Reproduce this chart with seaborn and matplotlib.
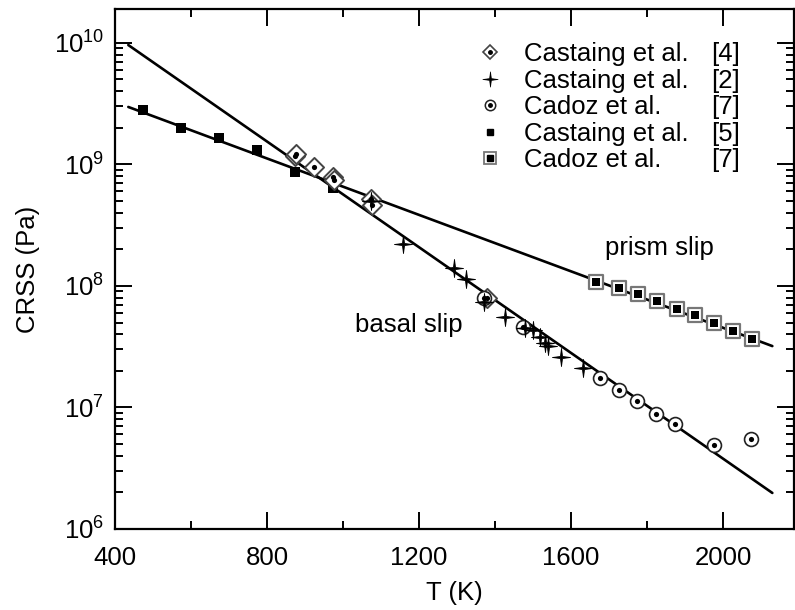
import numpy as np
import pandas as pd
import matplotlib
matplotlib.use("Agg")
import matplotlib.pyplot as plt
from matplotlib.lines import Line2D
from matplotlib.path import Path
from matplotlib.ticker import MultipleLocator, LogLocator, NullFormatter
import seaborn as sns

# data: T in K, CRSS in Pa
castaing4_T = [873, 876, 924, 973, 976, 1074, 1076, 1378]
castaing4_crss = [1.18e9, 1.22e9, 9.6e8, 7.9e8, 7.5e8, 5.2e8, 4.6e8, 8.0e7]

castaing2_T = [1075, 1159, 1292, 1323, 1372, 1426, 1479, 1501, 1518, 1532, 1540, 1575, 1633]
castaing2_crss = [5.0e8, 2.2e8, 1.4e8, 1.13e8, 7.4e7, 5.6e7, 4.5e7, 4.3e7, 3.8e7,
                  3.4e7, 3.2e7, 2.6e7, 2.1e7]

cadoz_circ_T = [1372, 1475, 1676, 1727, 1775, 1825, 1875, 1976, 2075]
cadoz_circ_crss = [8.0e7, 4.6e7, 1.74e7, 1.38e7, 1.12e7, 8.9e6, 7.3e6, 4.9e6, 5.5e6]

castaing5_T = [473, 573, 674, 775, 875, 974]
castaing5_crss = [2.8e9, 2.0e9, 1.64e9, 1.32e9, 8.6e8, 6.4e8]

cadoz_sq_T = [1666, 1727, 1777, 1827, 1878, 1926, 1976, 2027, 2077]
cadoz_sq_crss = [1.07e8, 9.7e7, 8.6e7, 7.5e7, 6.4e7, 5.8e7, 5.0e7, 4.27e7, 3.64e7]

# fitted lines (end points)
basal_T = [435, 2130]
basal_crss = [9.6e9, 1.98e6]
prism_T = [435, 2130]
prism_crss = [2.97e9, 3.2e7]

labels = ["Castaing et al.", "Castaing et al.", "Cadoz et al.", "Castaing et al.", "Cadoz et al."]
refs = ["[4]", "[2]", "[7]", "[5]", "[7]"]

sns.set_theme(style="ticks")
plt.rcParams["font.family"] = ["Liberation Sans", "DejaVu Sans"]
plt.rcParams["font.size"] = 18.5
plt.rcParams["text.color"] = "black"
plt.rcParams["axes.labelcolor"] = "black"

# thin four-armed star like the original "+" symbols
ang = np.deg2rad(np.arange(0, 360, 45))
rad = np.where(np.arange(8) % 2 == 0, 1.0, 0.16)
verts = np.column_stack([rad * np.sin(ang), rad * np.cos(ang)])
verts = np.vstack([verts, verts[:1]])
star = Path(verts, [Path.MOVETO] + [Path.LINETO] * 7 + [Path.CLOSEPOLY])

fig = plt.figure(figsize=(7.95, 6.10), dpi=100)
ax = fig.add_axes([115 / 795, 1 - 529 / 610, 679 / 795, 520 / 610])

lw = 1.9
sns.lineplot(x=basal_T, y=basal_crss, ax=ax, color="black", lw=lw)
sns.lineplot(x=prism_T, y=prism_crss, ax=ax, color="black", lw=lw)

# castaing [5]: filled squares
sns.scatterplot(x=castaing5_T, y=castaing5_crss, ax=ax, marker="s", s=50,
                color="black", edgecolor="black", linewidth=0, zorder=5)
# castaing [4]: open diamond with dot
sns.scatterplot(x=castaing4_T, y=castaing4_crss, ax=ax, marker="D", s=95,
                facecolor="white", edgecolor="#444444", linewidth=1.4, zorder=5)
sns.scatterplot(x=castaing4_T, y=castaing4_crss, ax=ax, marker="o", s=14,
                color="black", linewidth=0, zorder=6)
# castaing [2]: thin four point star
sns.scatterplot(x=castaing2_T, y=castaing2_crss, ax=ax, marker=star, s=170,
                color="black", edgecolor="black", linewidth=0.6, zorder=7)
# cadoz [7]: circle with dot
sns.scatterplot(x=cadoz_circ_T, y=cadoz_circ_crss, ax=ax, marker="o", s=100,
                facecolor="white", edgecolor="#222222", linewidth=1.2, zorder=5)
sns.scatterplot(x=cadoz_circ_T, y=cadoz_circ_crss, ax=ax, marker="o", s=14,
                color="black", linewidth=0, zorder=6)
# cadoz [7]: open gray square with black center
sns.scatterplot(x=cadoz_sq_T, y=cadoz_sq_crss, ax=ax, marker="s", s=110,
                facecolor="white", edgecolor="#777777", linewidth=1.6, zorder=5)
sns.scatterplot(x=cadoz_sq_T, y=cadoz_sq_crss, ax=ax, marker="s", s=30,
                color="black", linewidth=0, zorder=6)

ax.set_yscale("log")
ax.set_xlim(400, 2187)
ax.set_ylim(1e6, 1.9e10)
ax.xaxis.set_major_locator(MultipleLocator(400))
ax.xaxis.set_minor_locator(MultipleLocator(200))
ax.yaxis.set_major_locator(LogLocator(base=10, numticks=10))
ax.yaxis.set_minor_locator(LogLocator(base=10, subs=np.arange(2, 10), numticks=20))
ax.yaxis.set_minor_formatter(NullFormatter())
ax.tick_params(which="both", direction="in", top=True, right=True, width=1.4,
               colors="black", labelsize=18.5)
ax.tick_params(which="major", length=12)
ax.tick_params(which="minor", length=6)
ax.tick_params(axis="x", which="major", pad=12)
ax.tick_params(axis="y", which="major", pad=8)
for sp in ax.spines.values():
    sp.set_linewidth(1.6)
    sp.set_color("black")
ax.set_xlabel("T (K)", fontsize=18.5, labelpad=8)
ax.set_ylabel("CRSS (Pa)", fontsize=18.5, labelpad=10)

ax.text(1832, 2.05e8, "prism slip", ha="center", va="center", fontsize=18.5)
ax.text(1174, 4.77e7, "basal slip", ha="center", va="center", fontsize=18.5)

# legend handles
h4 = (Line2D([], [], ls="", marker="D", ms=7, mfc="white", mec="#444444", mew=1.2),
      Line2D([], [], ls="", marker="o", ms=2.5, mfc="black", mec="black"))
h2 = Line2D([], [], ls="", marker=star, ms=11, color="black", mew=0.5)
h7c = (Line2D([], [], ls="", marker="o", ms=7.5, mfc="white", mec="#222222", mew=1.1),
       Line2D([], [], ls="", marker="o", ms=2.5, mfc="black", mec="black"))
h5 = Line2D([], [], ls="", marker="s", ms=5, color="black")
h7s = (Line2D([], [], ls="", marker="s", ms=8, mfc="white", mec="#777777", mew=1.3),
       Line2D([], [], ls="", marker="s", ms=4, mfc="black", mec="black"))
leg = ax.legend([h4, h2, h7c, h5, h7s], labels, loc="upper left",
                bbox_to_anchor=(477 / 795, 1 - 42 / 610), bbox_transform=fig.transFigure,
                frameon=False, borderpad=0, borderaxespad=0, handlelength=1.0,
                handletextpad=0.83, labelspacing=0.1, fontsize=18.5)

fig.canvas.draw()
for t, r in zip(leg.get_texts(), refs):
    bb = t.get_window_extent()
    fig.text(740 / 795, (bb.y0 + bb.y1) / 2 / 610, r, ha="right", va="center",
             fontsize=18.5)

fig.savefig("out.png", dpi=100)
